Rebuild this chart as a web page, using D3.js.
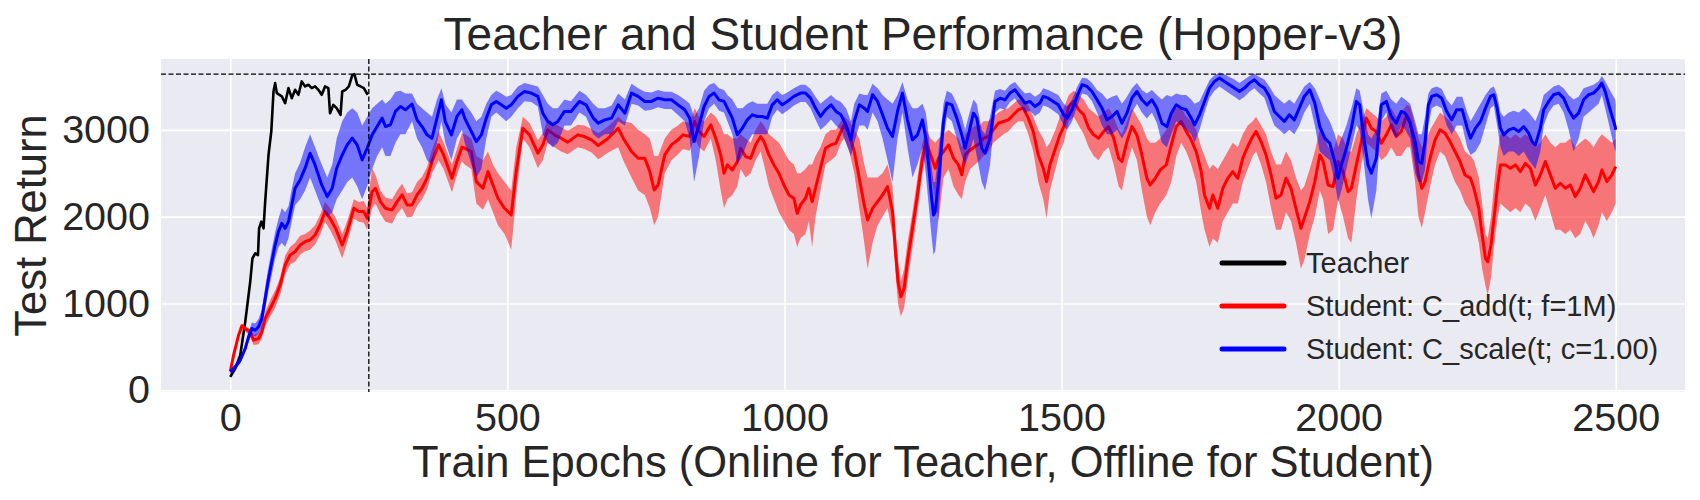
<!DOCTYPE html>
<html>
<head>
<meta charset="utf-8">
<script src="https://cdn.jsdelivr.net/npm/d3@7"></script>
<style>
  html, body { margin: 0; padding: 0; background: #ffffff; }
  svg { display: block; }
  text { font-family: "Liberation Sans", Arial, sans-serif; fill: #262626; }
</style>
</head>
<body>
<svg id="chart" width="1700" height="500"></svg>
<script>
// ---------------- DATA ----------------
const title = "Teacher and Student Performance (Hopper-v3)";
const xLabel = "Train Epochs (Online for Teacher, Offline for Student)";
const yLabel = "Test Return";
const xTicks = [0, 500, 1000, 1500, 2000, 2500];
const yTicks = [0, 1000, 2000, 3000];
const seriesNames = ["Teacher", "Student: C_add(t; f=1M)", "Student: C_scale(t; c=1.00)"];
const teacherMax = 3642;      // horizontal dashed line
const teacherEnd = 250;       // vertical dashed line

// Teacher: [epoch, return]
const teacher = [
  [0,154],[9,250],[18,404],[27,788],[30,942],[36,1250],[40,1519],[45,1577],[50,1558],[52,1865],
  [56,1942],[60,1865],[63,2173],[69,2711],[74,2980],[78,3442],[81,3538],[84,3423],[93,3385],[99,3308],
  [105,3481],[111,3365],[117,3461],[123,3404],[129,3558],[135,3500],[141,3519],[147,3481],[153,3500],
  [159,3461],[165,3404],[171,3500],[177,3481],[180,3192],[186,3288],[192,3250],[199,3173],[202,3442],
  [208,3461],[214,3500],[220,3627],[224,3642],[229,3519],[235,3500],[241,3481],[248,3404]
];

// Student C_add: [epoch, mean, lower, upper]
const studentAdd = [
  [0,219,180,250],[6,404,360,440],[15,635,600,670],[21,742,700,770],[27,712,680,740],[36,673,620,700],
  [42,577,520,640],[51,596,530,660],[57,673,600,740],[63,827,740,900],[72,942,850,1040],[81,1058,950,1150],
  [90,1212,1100,1300],[99,1442,1330,1550],[108,1558,1450,1650],[117,1596,1480,1700],[126,1673,1560,1780],
  [135,1712,1600,1800],[144,1731,1620,1840],[153,1788,1680,1900],[162,1904,1790,2020],[171,2058,1940,2170],
  [180,1981,1850,2100],[190,1865,1720,1990],[202,1673,1520,1800],[211,1827,1700,1950],[223,2096,1980,2200],
  [232,2058,1940,2170],[241,2058,1930,2180],[247,1981,1850,2100],[256,2288,2100,2560],[262,2327,2150,2480],
  [271,2173,2030,2300],[280,2096,1940,2220],[292,2077,1920,2200],[301,2173,2030,2300],[310,2250,2100,2380],
  [319,2135,1990,2270],[328,2135,2000,2280],[337,2250,2120,2400],[346,2327,2200,2460],[355,2442,2310,2570],
  [364,2635,2500,2770],[376,2827,2650,2980],[385,2711,2550,2850],[400,2442,2280,2600],[409,2635,2480,2780],
  [418,2800,2640,2960],[423,2788,2600,2950],[435,2750,2550,2900],[444,2404,2150,2700],[456,2327,2080,2650],
  [465,2519,2200,2750],[474,2365,2050,2600],[483,2212,1900,2500],[495,2096,1800,2400],[507,2019,1620,2300],
  [516,2519,2250,2800],[528,3019,2900,3150],[540,2942,2800,3080],[555,2731,2560,2880],[564,2827,2650,2960],
  [573,3000,2850,3120],[585,2942,2800,3070],[597,2904,2750,3030],[609,2858,2720,2990],[627,2942,2800,3060],
  [639,2923,2780,3050],[652,2885,2740,3010],[664,2819,2660,2960],[682,2904,2740,3040],[700,3019,2800,3150],
  [709,2904,2650,3100],[724,2750,2450,3080],[736,2673,2300,3000],[748,2673,2250,2950],[757,2519,2100,2900],
  [765,2308,1900,2700],[772,2365,2000,2700],[784,2711,2500,2900],[796,2827,2650,3000],[808,2885,2720,3050],
  [817,2942,2780,3100],[829,2923,2760,3080],[838,3096,2900,3250],[846,2981,2800,3150],[855,2923,2750,3100],
  [867,3058,2900,3200],[876,2904,2650,3150],[885,2711,2300,3050],[891,2500,2100,2950],[897,2596,2200,2950],
  [906,2538,2250,2900],[915,2635,2350,2900],[921,2788,2550,2950],[930,2692,2450,2900],[939,2673,2500,2850],
  [948,2827,2650,3000],[957,2923,2750,3100],[963,2865,2600,3050],[972,2711,2350,2950],[981,2596,2200,2900],
  [990,2500,2050,2850],[999,2365,1950,2750],[1008,2250,1850,2650],[1017,2212,1800,2600],[1023,2038,1650,2500],
  [1029,2135,1750,2500],[1038,2212,1800,2550],[1044,2327,1950,2600],[1050,2173,1650,2600],[1056,2327,2000,2700],
  [1065,2558,2300,2800],[1074,2788,2600,2950],[1084,2827,2650,3000],[1093,2846,2700,3000],[1102,2981,2850,3100],
  [1108,3058,2900,3150],[1117,2942,2750,3100],[1126,2750,2500,3000],[1135,2442,2100,2900],[1144,2135,1700,2600],
  [1150,1962,1400,2450],[1159,2096,1700,2450],[1168,2173,1900,2450],[1177,2250,2000,2500],[1186,2346,2100,2600],
  [1195,2058,1800,2350],[1201,1558,1300,1800],[1205,1250,1000,1500],[1210,1077,850,1250],[1216,1173,950,1400],
  [1222,1481,1250,1700],[1231,1865,1650,2050],[1240,2250,2050,2450],[1249,2673,2500,2850],[1255,2865,2700,3000],
  [1264,2711,2500,2900],[1272,2558,2200,2850],[1278,2673,1950,2900],[1287,2750,2450,2950],[1296,2827,2550,3000],
  [1305,2673,2350,2950],[1314,2596,2250,2900],[1320,2481,2200,2800],[1326,2711,2400,2950],[1335,2769,2550,3000],
  [1344,2808,2600,3050],[1353,2846,2650,3050],[1359,2904,2700,3100],[1368,2923,2750,3100],[1377,3000,2850,3150],
  [1386,3077,2900,3200],[1395,3096,2950,3230],[1404,3115,2980,3250],[1413,3173,3050,3300],[1422,3231,3100,3350],
  [1431,3250,3100,3350],[1440,3135,2950,3280],[1449,2981,2750,3150],[1458,2711,2400,3000],[1467,2558,2200,2900],
  [1473,2404,1980,2800],[1479,2596,2300,2850],[1489,2788,2550,3000],[1497,2942,2750,3150],[1504,3038,2850,3250],
  [1513,3269,3100,3400],[1522,3327,3150,3450],[1531,3231,3050,3400],[1540,3173,2950,3350],[1549,3019,2800,3250],
  [1558,2942,2700,3200],[1567,2904,2650,3150],[1576,2981,2750,3200],[1585,3038,2800,3250],[1594,2904,2600,3150],
  [1603,2673,2350,3000],[1609,2635,2300,2950],[1618,2865,2600,3100],[1627,3038,2800,3250],[1636,2942,2650,3150],
  [1645,2711,2300,3050],[1654,2442,2000,2900],[1660,2365,1900,2850],[1669,2442,2050,2850],[1678,2538,2150,2900],
  [1689,2596,2250,3000],[1698,2827,2400,3200],[1707,3038,2700,3250],[1716,3096,2850,3250],[1725,2981,2750,3150],
  [1734,2885,2600,3100],[1743,2750,2400,3000],[1752,2519,2050,2800],[1758,2250,1850,2700],[1767,2096,1650,2550],
  [1773,2250,1750,2600],[1782,2096,1700,2550],[1791,2327,1950,2650],[1800,2442,2050,2750],[1809,2519,2150,2850],
  [1818,2442,2150,2800],[1827,2673,2400,2950],[1836,2808,2550,3050],[1845,2923,2700,3100],[1851,2981,2750,3150],
  [1860,2865,2600,3050],[1869,2711,2400,2950],[1878,2481,2100,2750],[1887,2212,1850,2600],[1896,2250,1850,2600],
  [1905,2442,2050,2750],[1914,2327,1950,2650],[1923,2096,1700,2450],[1932,1865,1400,2300],[1938,1981,1500,2350],
  [1948,2173,1800,2550],[1957,2404,2000,2750],[1966,2711,2300,3000],[1972,2635,2200,2950],[1981,2365,1800,2800],
  [1990,2346,1850,2750],[1999,2635,2200,2950],[2008,2519,2000,2900],[2017,2288,1750,2750],[2023,2327,1700,2750],
  [2032,2596,2200,2950],[2041,2865,2600,3100],[2050,3135,2850,3250],[2059,3019,2800,3200],[2068,2981,2750,3150],
  [2077,2846,2650,3100],[2086,2942,2700,3150],[2095,3058,2800,3250],[2104,2923,2700,3150],[2113,2981,2700,3200],
  [2123,3173,2800,3290],[2129,3096,2800,3270],[2138,2750,2400,3050],[2144,2481,2000,2900],[2150,2327,1870,2800],
  [2156,2404,2050,2850],[2165,2673,2350,3000],[2174,2885,2600,3100],[2183,3000,2750,3200],[2192,2962,2700,3150],
  [2201,2865,2550,3100],[2210,2750,2400,3000],[2219,2635,2300,2900],[2228,2481,2150,2750],[2238,2442,2050,2700],
  [2244,2327,1950,2650],[2253,2096,1700,2450],[2259,1788,1400,2150],[2265,1519,1200,1800],[2269,1481,1100,1750],
  [2275,1673,1300,2000],[2281,2019,1700,2400],[2287,2365,2000,2750],[2292,2596,2150,2950],[2301,2596,2100,2950],
  [2310,2558,2050,2900],[2319,2596,2100,2950],[2328,2519,2050,2900],[2337,2615,2150,2950],[2346,2558,2100,2900],
  [2355,2365,1950,2800],[2364,2481,2100,2850],[2373,2635,2250,2950],[2382,2481,2050,2850],[2391,2327,1850,2800],
  [2400,2385,1850,2850],[2409,2327,1800,2850],[2418,2365,1850,2900],[2427,2231,1750,2800],[2436,2327,1800,2850],
  [2445,2481,1950,2900],[2454,2365,1850,2850],[2460,2288,1750,2800],[2469,2404,1900,2900],[2475,2538,2050,2950],
  [2484,2404,1950,2900],[2493,2481,2050,2850],[2500,2577,2150,2900]
];

// Student C_scale: [epoch, mean, lower, upper]
const studentScale = [
  [0,212,180,240],[9,269,240,300],[18,346,310,380],[27,481,440,520],[33,615,560,670],[39,712,640,780],
  [45,692,620,770],[51,731,650,820],[57,827,730,930],[63,1058,930,1180],[69,1288,1150,1420],[75,1481,1330,1630],
  [81,1673,1520,1820],[87,1827,1650,1980],[93,1923,1700,2100],[99,1865,1650,2050],[105,1942,1750,2120],
  [111,2135,1950,2320],[117,2327,2130,2500],[126,2423,2200,2620],[135,2558,2300,2800],[144,2731,2450,2950],
  [153,2596,2300,2800],[159,2481,2200,2700],[165,2365,2100,2600],[175,2231,2000,2450],[184,2327,2050,2600],
  [192,2558,2200,2900],[202,2711,2300,3100],[211,2827,2400,3200],[220,2904,2450,3250],[229,2827,2350,3200],
  [238,2654,2200,3050],[247,2788,2350,3150],[256,2942,2550,3250],[265,3038,2700,3300],[274,3135,2800,3350],
  [280,3038,2700,3300],[289,3058,2700,3350],[298,3212,2850,3440],[307,3269,2950,3450],[316,3231,2950,3420],
  [328,3296,3100,3420],[337,3115,2900,3300],[346,3038,2800,3250],[355,2942,2650,3200],[364,2904,2600,3150],
  [373,3135,2850,3350],[381,3346,3100,3480],[388,3096,2850,3300],[399,2942,2650,3200],[409,3154,2900,3350],
  [418,3231,3000,3350],[423,3135,2850,3300],[435,2981,2600,3200],[444,2865,2450,3100],[453,2942,2550,3150],
  [462,3135,2900,3300],[471,3288,3150,3400],[480,3327,3200,3450],[489,3288,3150,3420],[498,3250,3100,3380],
  [507,3288,3150,3400],[519,3385,3250,3500],[531,3442,3330,3540],[543,3423,3320,3520],[555,3385,3270,3500],
  [564,3192,2950,3400],[573,3096,2850,3300],[582,3058,2800,3250],[591,3096,2850,3250],[603,3212,3050,3350],
  [615,3212,3050,3330],[630,3327,3200,3450],[642,3288,3150,3400],[655,3135,2950,3300],[664,3077,2900,3250],
  [676,3115,2950,3250],[688,3135,2950,3280],[700,3288,3100,3420],[712,3192,3050,3350],[724,3423,3300,3530],
  [736,3385,3280,3480],[748,3327,3220,3440],[760,3327,3230,3430],[772,3365,3260,3460],[784,3346,3240,3440],
  [796,3346,3240,3440],[808,3288,3170,3400],[820,3231,3100,3350],[829,3135,2900,3300],[837,2865,2400,3150],
  [846,3058,2700,3250],[855,3269,3100,3450],[864,3385,3250,3520],[873,3423,3300,3540],[882,3346,3220,3480],
  [891,3327,3200,3460],[897,3250,3100,3400],[906,3135,2950,3350],[915,2942,2600,3250],[924,3019,2700,3250],
  [933,3115,2850,3300],[942,3173,2950,3330],[951,3154,2950,3300],[960,3154,2950,3300],[969,3135,2950,3300],
  [978,3288,3150,3400],[987,3346,3230,3450],[996,3288,3180,3400],[1005,3327,3220,3430],[1017,3385,3280,3480],
  [1029,3423,3320,3520],[1038,3423,3320,3520],[1047,3365,3250,3470],[1056,3250,3120,3380],[1065,3154,3000,3300],
  [1074,3231,3050,3350],[1084,3288,3120,3400],[1093,3212,3050,3350],[1102,3173,3000,3320],[1111,3058,2850,3250],
  [1120,2885,2700,3100],[1126,3096,2850,3300],[1135,3288,3050,3420],[1144,3250,3050,3400],[1150,3212,3000,3400],
  [1159,3404,3200,3530],[1168,3327,3100,3480],[1177,3173,2900,3400],[1186,3019,2650,3350],[1195,2923,2400,3300],
  [1204,3212,2900,3400],[1213,3423,3200,3550],[1222,3115,2800,3350],[1231,2885,2450,3250],[1240,2942,2600,3250],
  [1249,3115,2800,3300],[1255,2904,2500,3200],[1260,2600,2150,2950],[1265,2250,1800,2600],[1269,2019,1560,2400],
  [1272,2058,1600,2400],[1278,2404,2000,2750],[1287,3096,2900,3300],[1293,3308,3150,3450],[1302,3288,3100,3420],
  [1311,3135,2900,3300],[1320,2942,2700,3150],[1326,2788,2600,3000],[1332,2942,2700,3150],[1341,3192,2900,3350],
  [1347,3135,2700,3300],[1356,2788,2400,3000],[1362,2731,2300,2950],[1371,2904,2600,3150],[1380,3327,3200,3450],
  [1389,3365,3250,3470],[1398,3346,3230,3450],[1407,3423,3320,3520],[1416,3461,3360,3550],[1425,3385,3280,3480],
  [1434,3308,3200,3420],[1443,3327,3220,3430],[1452,3269,3160,3380],[1461,3308,3200,3420],[1467,3385,3280,3480],
  [1476,3365,3260,3460],[1485,3327,3220,3430],[1494,3288,3180,3400],[1504,3173,3050,3300],[1510,3135,3000,3270],
  [1519,3231,3100,3350],[1528,3385,3270,3490],[1537,3519,3420,3600],[1546,3500,3400,3590],[1555,3442,3330,3540],
  [1564,3346,3200,3460],[1573,3250,3050,3420],[1582,3115,2950,3350],[1591,3154,2950,3380],[1600,3212,3000,3400],
  [1609,3077,2900,3300],[1618,3192,3000,3380],[1627,3365,3200,3480],[1636,3442,3300,3540],[1645,3346,3200,3460],
  [1654,3288,3130,3420],[1663,3346,3200,3460],[1672,3250,3080,3400],[1681,3077,2850,3350],[1690,3038,2800,3400],
  [1698,3192,2950,3380],[1707,3288,3100,3420],[1716,3250,3050,3400],[1725,3231,3000,3400],[1734,3135,2950,3350],
  [1740,3058,2850,3300],[1749,3173,3000,3330],[1758,3327,3200,3450],[1767,3481,3370,3570],[1776,3558,3450,3630],
  [1785,3596,3500,3660],[1794,3558,3460,3640],[1803,3519,3420,3610],[1812,3481,3380,3580],[1821,3442,3340,3540],
  [1830,3481,3380,3580],[1839,3538,3440,3620],[1848,3577,3480,3650],[1857,3519,3420,3610],[1866,3481,3370,3580],
  [1875,3385,3200,3500],[1884,3212,3050,3400],[1893,3154,3000,3350],[1902,3096,2950,3300],[1911,3173,3000,3350],
  [1920,3115,2950,3300],[1929,3250,3050,3400],[1938,3385,3200,3500],[1948,3461,3300,3550],[1957,3308,3050,3480],
  [1966,3038,2750,3350],[1975,2904,2700,3200],[1984,2846,2650,3100],[1993,2635,2400,2950],[1999,2442,2170,2800],
  [2005,2596,2300,2900],[2014,2788,2550,3050],[2023,3019,2800,3250],[2032,3327,3050,3480],[2038,3288,3000,3450],
  [2044,2981,2700,3250],[2053,2596,2200,2950],[2059,2500,1980,2900],[2068,2673,2300,3000],[2077,3288,3100,3420],
  [2086,3327,3200,3450],[2095,3154,3000,3350],[2104,3077,2900,3300],[2113,3212,3050,3380],[2120,3192,3000,3350],
  [2129,3077,2900,3300],[2138,2865,2500,3100],[2144,2635,2400,2950],[2150,2615,2400,2950],[2156,2865,2550,3150],
  [2162,3288,3050,3420],[2168,3385,3250,3480],[2177,3404,3280,3500],[2186,3365,3250,3470],[2195,3212,3050,3350],
  [2204,3115,2950,3280],[2213,3231,3050,3380],[2223,3231,3050,3380],[2232,3019,2800,3200],[2238,2904,2711,3100],
  [2247,3019,2750,3200],[2256,3096,2850,3300],[2265,3250,3050,3400],[2274,3385,3250,3480],[2280,3404,3280,3500],
  [2286,3250,3050,3400],[2292,3019,2800,3200],[2298,2942,2700,3150],[2307,3000,2750,3200],[2316,3019,2750,3220],
  [2325,2981,2700,3200],[2334,3038,2750,3250],[2343,2962,2650,3200],[2349,2865,2600,3150],[2355,2827,2550,3100],
  [2364,3019,2750,3250],[2370,3231,3050,3400],[2379,3327,3200,3450],[2388,3404,3280,3500],[2397,3423,3300,3520],
  [2406,3365,3200,3480],[2415,3231,3000,3400],[2424,3135,2750,3350],[2433,3192,2900,3380],[2442,3346,3150,3480],
  [2451,3404,3200,3500],[2460,3423,3250,3520],[2469,3481,3300,3560],[2475,3538,3400,3620],[2481,3442,3250,3560],
  [2490,3231,3000,3450],[2499,3038,2750,3350],[2500,3000,2800,3300]
];

// ---------------- CHART ----------------
const W = 1700, H = 500;
const plot = { left: 161, right: 1685, top: 59, bottom: 392 };
const svg = d3.select("#chart");

const x = d3.scaleLinear().domain([-125, 2625]).range([plot.left, plot.right]);
const y = d3.scaleLinear().domain([-20, 3816]).range([plot.bottom, plot.top]);

// background
svg.append("rect")
  .attr("x", plot.left).attr("y", plot.top)
  .attr("width", plot.right - plot.left).attr("height", plot.bottom - plot.top)
  .attr("fill", "#EAEAF2");

// grid
const gx = svg.append("g").attr("transform", `translate(0,${plot.bottom})`)
  .call(d3.axisBottom(x).tickValues(xTicks).tickSize(-(plot.bottom - plot.top)).tickFormat(""));
gx.select(".domain").remove();
gx.selectAll("line").attr("stroke", "#ffffff").attr("stroke-width", 1.6);

const gy = svg.append("g").attr("transform", `translate(${plot.left},0)`)
  .call(d3.axisLeft(y).tickValues(yTicks).tickSize(-(plot.right - plot.left)).tickFormat(""));
gy.select(".domain").remove();
gy.selectAll("line").attr("stroke", "#ffffff").attr("stroke-width", 1.6);

// clip
svg.append("clipPath").attr("id", "clip").append("rect")
  .attr("x", plot.left).attr("y", plot.top)
  .attr("width", plot.right - plot.left).attr("height", plot.bottom - plot.top);
const g = svg.append("g").attr("clip-path", "url(#clip)");

const area = d3.area().x(d => x(d[0])).y0(d => y(d[2])).y1(d => y(d[3]));
const line = d3.line().x(d => x(d[0])).y(d => y(d[1]));

// teacher
g.append("path").datum(teacher)
  .attr("d", d3.line().x(d => x(d[0])).y(d => y(d[1])))
  .attr("fill", "none").attr("stroke", "#000000").attr("stroke-width", 2.6)
  .attr("stroke-linejoin", "round");

// student add (red)
g.append("path").datum(studentAdd).attr("d", area)
  .attr("fill", "#ff0000").attr("fill-opacity", 0.5);
g.append("path").datum(studentAdd).attr("d", line)
  .attr("fill", "none").attr("stroke", "#ff0000").attr("stroke-width", 3)
  .attr("stroke-linejoin", "round");

// student scale (blue)
g.append("path").datum(studentScale).attr("d", area)
  .attr("fill", "#0000ff").attr("fill-opacity", 0.5);
g.append("path").datum(studentScale).attr("d", line)
  .attr("fill", "none").attr("stroke", "#0000ff").attr("stroke-width", 3)
  .attr("stroke-linejoin", "round");

// dashed reference lines
g.append("line")
  .attr("x1", plot.left).attr("x2", plot.right)
  .attr("y1", y(teacherMax)).attr("y2", y(teacherMax))
  .attr("stroke", "#000").attr("stroke-width", 1.3).attr("stroke-dasharray", "5,2.5");
g.append("line")
  .attr("x1", x(teacherEnd)).attr("x2", x(teacherEnd))
  .attr("y1", plot.top).attr("y2", plot.bottom)
  .attr("stroke", "#000").attr("stroke-width", 1.3).attr("stroke-dasharray", "5,2.5");

// axes tick labels
const ax = svg.append("g").attr("transform", `translate(0,${plot.bottom})`)
  .call(d3.axisBottom(x).tickValues(xTicks).tickSize(0).tickPadding(11).tickFormat(d3.format("d")));
ax.select(".domain").remove();
ax.selectAll("text").style("font-size", "39.5px").attr("fill", "#262626")
  .style("font-family", '"Liberation Sans", Arial, sans-serif');

const ay = svg.append("g").attr("transform", `translate(${plot.left},0)`)
  .call(d3.axisLeft(y).tickValues(yTicks).tickSize(0).tickPadding(11).tickFormat(d3.format("d")));
ay.select(".domain").remove();
ay.selectAll("text").style("font-size", "39.5px").attr("fill", "#262626")
  .style("font-family", '"Liberation Sans", Arial, sans-serif');

// title & labels
const cx = (plot.left + plot.right) / 2;
svg.append("text").attr("x", cx).attr("y", 50).attr("text-anchor", "middle")
  .style("font-size", "46px").text(title);
svg.append("text").attr("x", cx).attr("y", 477).attr("text-anchor", "middle")
  .style("font-size", "43.5px").text(xLabel);
svg.append("text")
  .attr("transform", `translate(46,${(plot.top + plot.bottom) / 2}) rotate(-90)`)
  .attr("text-anchor", "middle").style("font-size", "43.5px").text(yLabel);

// legend
const legendColors = ["#000000", "#ff0000", "#0000ff"];
const leg = svg.append("g");
seriesNames.forEach((name, i) => {
  const yy = 263 + i * 43;
  leg.append("line").attr("x1", 1222).attr("x2", 1284).attr("y1", yy).attr("y2", yy)
    .attr("stroke", legendColors[i]).attr("stroke-width", 5).attr("stroke-linecap", "round");
  leg.append("text").attr("x", 1306).attr("y", yy + 10)
    .style("font-size", "29px").text(name);
});
</script>
</body>
</html>
